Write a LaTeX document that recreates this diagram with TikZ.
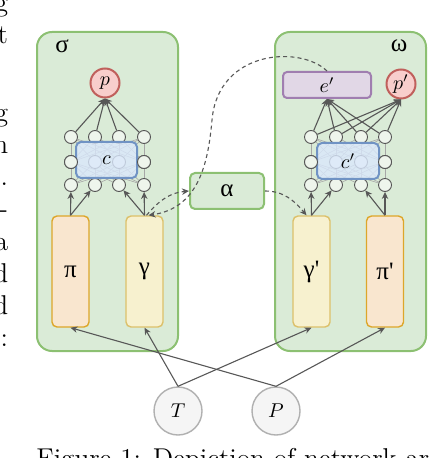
\documentclass[tikz,border=0pt]{standalone}
\usepackage{fontspec}
\newfontfamily\grk[Ligatures=TeXOff]{Liberation Serif}
\usetikzlibrary{arrows.meta}
\definecolor{grfill}{HTML}{DAEBD7}
\definecolor{grline}{HTML}{8CC072}
\definecolor{rdfill}{HTML}{F8CECC}
\definecolor{rdline}{HTML}{C0605C}
\definecolor{blfill}{HTML}{DAE8FC}
\definecolor{blline}{HTML}{7093C4}
\definecolor{pufill}{HTML}{E1D7E6}
\definecolor{puline}{HTML}{A07EB0}
\definecolor{orfill}{HTML}{F9E6CF}
\definecolor{orline}{HTML}{DDA62A}
\definecolor{yefill}{HTML}{F7F1CF}
\definecolor{yeline}{HTML}{DCC06A}
\definecolor{arrc}{HTML}{575757}
\definecolor{nfill}{HTML}{EEF5EC}
\definecolor{nline}{HTML}{555555}
\definecolor{tfill}{HTML}{F5F5F5}
\definecolor{tline}{HTML}{B0B0B0}
\tikzset{
  cont/.style={draw=grline, fill=grfill, line width=1pt, rounded corners=7.5pt, inner sep=0pt, minimum height=159.5pt},
  neur/.style={circle, draw=nline, fill=nfill, line width=0.45pt, minimum size=6.5pt, inner sep=0pt},
  conn/.style={draw=gray!70, line width=0.3pt},
  arr/.style={draw=arrc, line width=0.55pt, -{Stealth[length=3.5pt,width=3.2pt]}},
  dsh/.style={arr, dash pattern=on 2pt off 1.6pt},
  cbox/.style={draw=blline, fill=blfill, fill opacity=0.8, text opacity=1, line width=1pt, rounded corners=2.5pt, inner sep=0pt, minimum width=30.5pt, minimum height=18pt},
  outc/.style={circle, draw=rdline, fill=rdfill, line width=1pt, minimum size=14.5pt, inner sep=0pt},
  tall/.style={rounded corners=2.5pt, line width=0.7pt, inner sep=0pt, minimum width=18.5pt, minimum height=55.5pt},
  inc/.style={circle, draw=tline, fill=tfill, line width=0.7pt, minimum size=24pt, inner sep=0pt},
  glab/.style={font=\grk\fontsize{12.5}{15}\selectfont},
  txt/.style={font=\fontsize{13.6}{16}\selectfont, inner sep=0pt}
}
\begin{document}
\begin{tikzpicture}[x=0.5pt, y=-0.5pt]
\useasboundingbox (0,0) rectangle (428,458);
\clip (0,0) rectangle (428,458);

% margin fragments of the page text
\foreach \ch/\yy in {g/12, t/44, g/122, n/154, ./186, -/218, a/250, d/282, d/314, :/346}
  \node[txt, anchor=base east] (m\yy) at (8.5,\yy) {\ch};
\node[txt, anchor=base west] (cap) at (36,467) {Figure 1: Depiction of network architecture};

% containers
\node[cont, minimum width=70.5pt] (sig) at (107.5,191.5) {};
\node[cont, minimum width=75.5pt] (omg) at (350.5,191.5) {};
\node[glab] (sigl) at (62,46) {σ};
\node[glab] (omgl) at (399,46) {ω};

% left neurons
\foreach \r/\y in {1/137,2/162,3/185}
  \foreach \c/\x in {1/71,2/95,3/119,4/144}
    \node[neur] (L\r\c) at (\x,\y) {};
\foreach \a in {1,...,4}
  \foreach \b in {1,...,4} {
    \draw[conn] (L1\a) -- (L2\b);
    \draw[conn] (L2\a) -- (L3\b);
  }
\node[cbox] (cL) at (106.5,160) {$c$};
\foreach \c in {1,4} \node[neur] (L2\c x) at (L2\c) {};

% right neurons
\foreach \r/\y in {1/137,2/162,3/185}
  \foreach \c/\x in {1/311,2/336,3/361,4/385}
    \node[neur] (R\r\c) at (\x,\y) {};
\foreach \a in {1,...,4}
  \foreach \b in {1,...,4} {
    \draw[conn] (R1\a) -- (R2\b);
    \draw[conn] (R2\a) -- (R3\b);
  }
\node[cbox, minimum width=31pt] (cR) at (348,161) {$c'$};
\foreach \c in {1,4} \node[neur] (R2\c x) at (R2\c) {};

% outputs
\node[outc] (pL) at (105,83) {$p$};
\node[outc] (pR) at (401,84) {$p'$};
\node[draw=puline, fill=pufill, line width=1pt, rounded corners=2pt, inner sep=0pt, minimum width=44pt, minimum height=13pt] (eR) at (327,85) {$e'$};
\foreach \c in {1,...,4} {
  \draw[arr] (L1\c) -- (pL.south);
  \draw[arr] (R1\c) -- (eR.south);
  \draw[arr] (R1\c) -- (pR.south);
}

% input boxes
\node[tall, draw=orline, fill=orfill, glab] (piL) at (70.5,271.5) {π};
\node[tall, draw=yeline, fill=yefill, glab] (gaL) at (144.5,271.5) {γ};
\node[tall, draw=yeline, fill=yefill, glab] (gaR) at (311.5,271.5) {γ'};
\node[tall, draw=orline, fill=orfill, glab] (piR) at (385,271.5) {π'};
\draw[arr] (piL.north) -- (L31);
\draw[arr] (piL.north) -- (L32);
\draw[arr] (gaL.north) -- (L33);
\draw[arr] (gaL.north) -- (L34);
\draw[arr] (gaR.north) -- (R31);
\draw[arr] (gaR.north) -- (R32);
\draw[arr] (piR.north) -- (R33);
\draw[arr] (piR.north) -- (R34);

% alpha
\node[draw=grline, fill=grfill, line width=1pt, rounded corners=2.5pt, inner sep=0pt, minimum width=37pt, minimum height=18pt, glab] (al) at (227,191) {α};

% T and P
\node[inc] (T) at (178,411) {$T$};
\node[inc] (P) at (276,411) {$P$};
\draw[arr] (T.north) -- (gaL.south);
\draw[arr] (T.north) -- (gaR.south);
\draw[arr] (P.north) -- (piL.south);
\draw[arr] (P.north) -- (piR.south);

% dashed connectors
\draw[dsh] ([xshift=1pt]gaL.north) to[out=50, in=185] (al.west);
\draw[dsh] (al.east) to[out=0, in=130] ([xshift=-2.5pt]gaR.north);
\draw[dsh] (eR.north) .. controls (300,45) and (218,50) .. (212,120)
  .. controls (208,165) and (198,208) .. ([xshift=2pt]gaL.north);
\end{tikzpicture}
\end{document}
